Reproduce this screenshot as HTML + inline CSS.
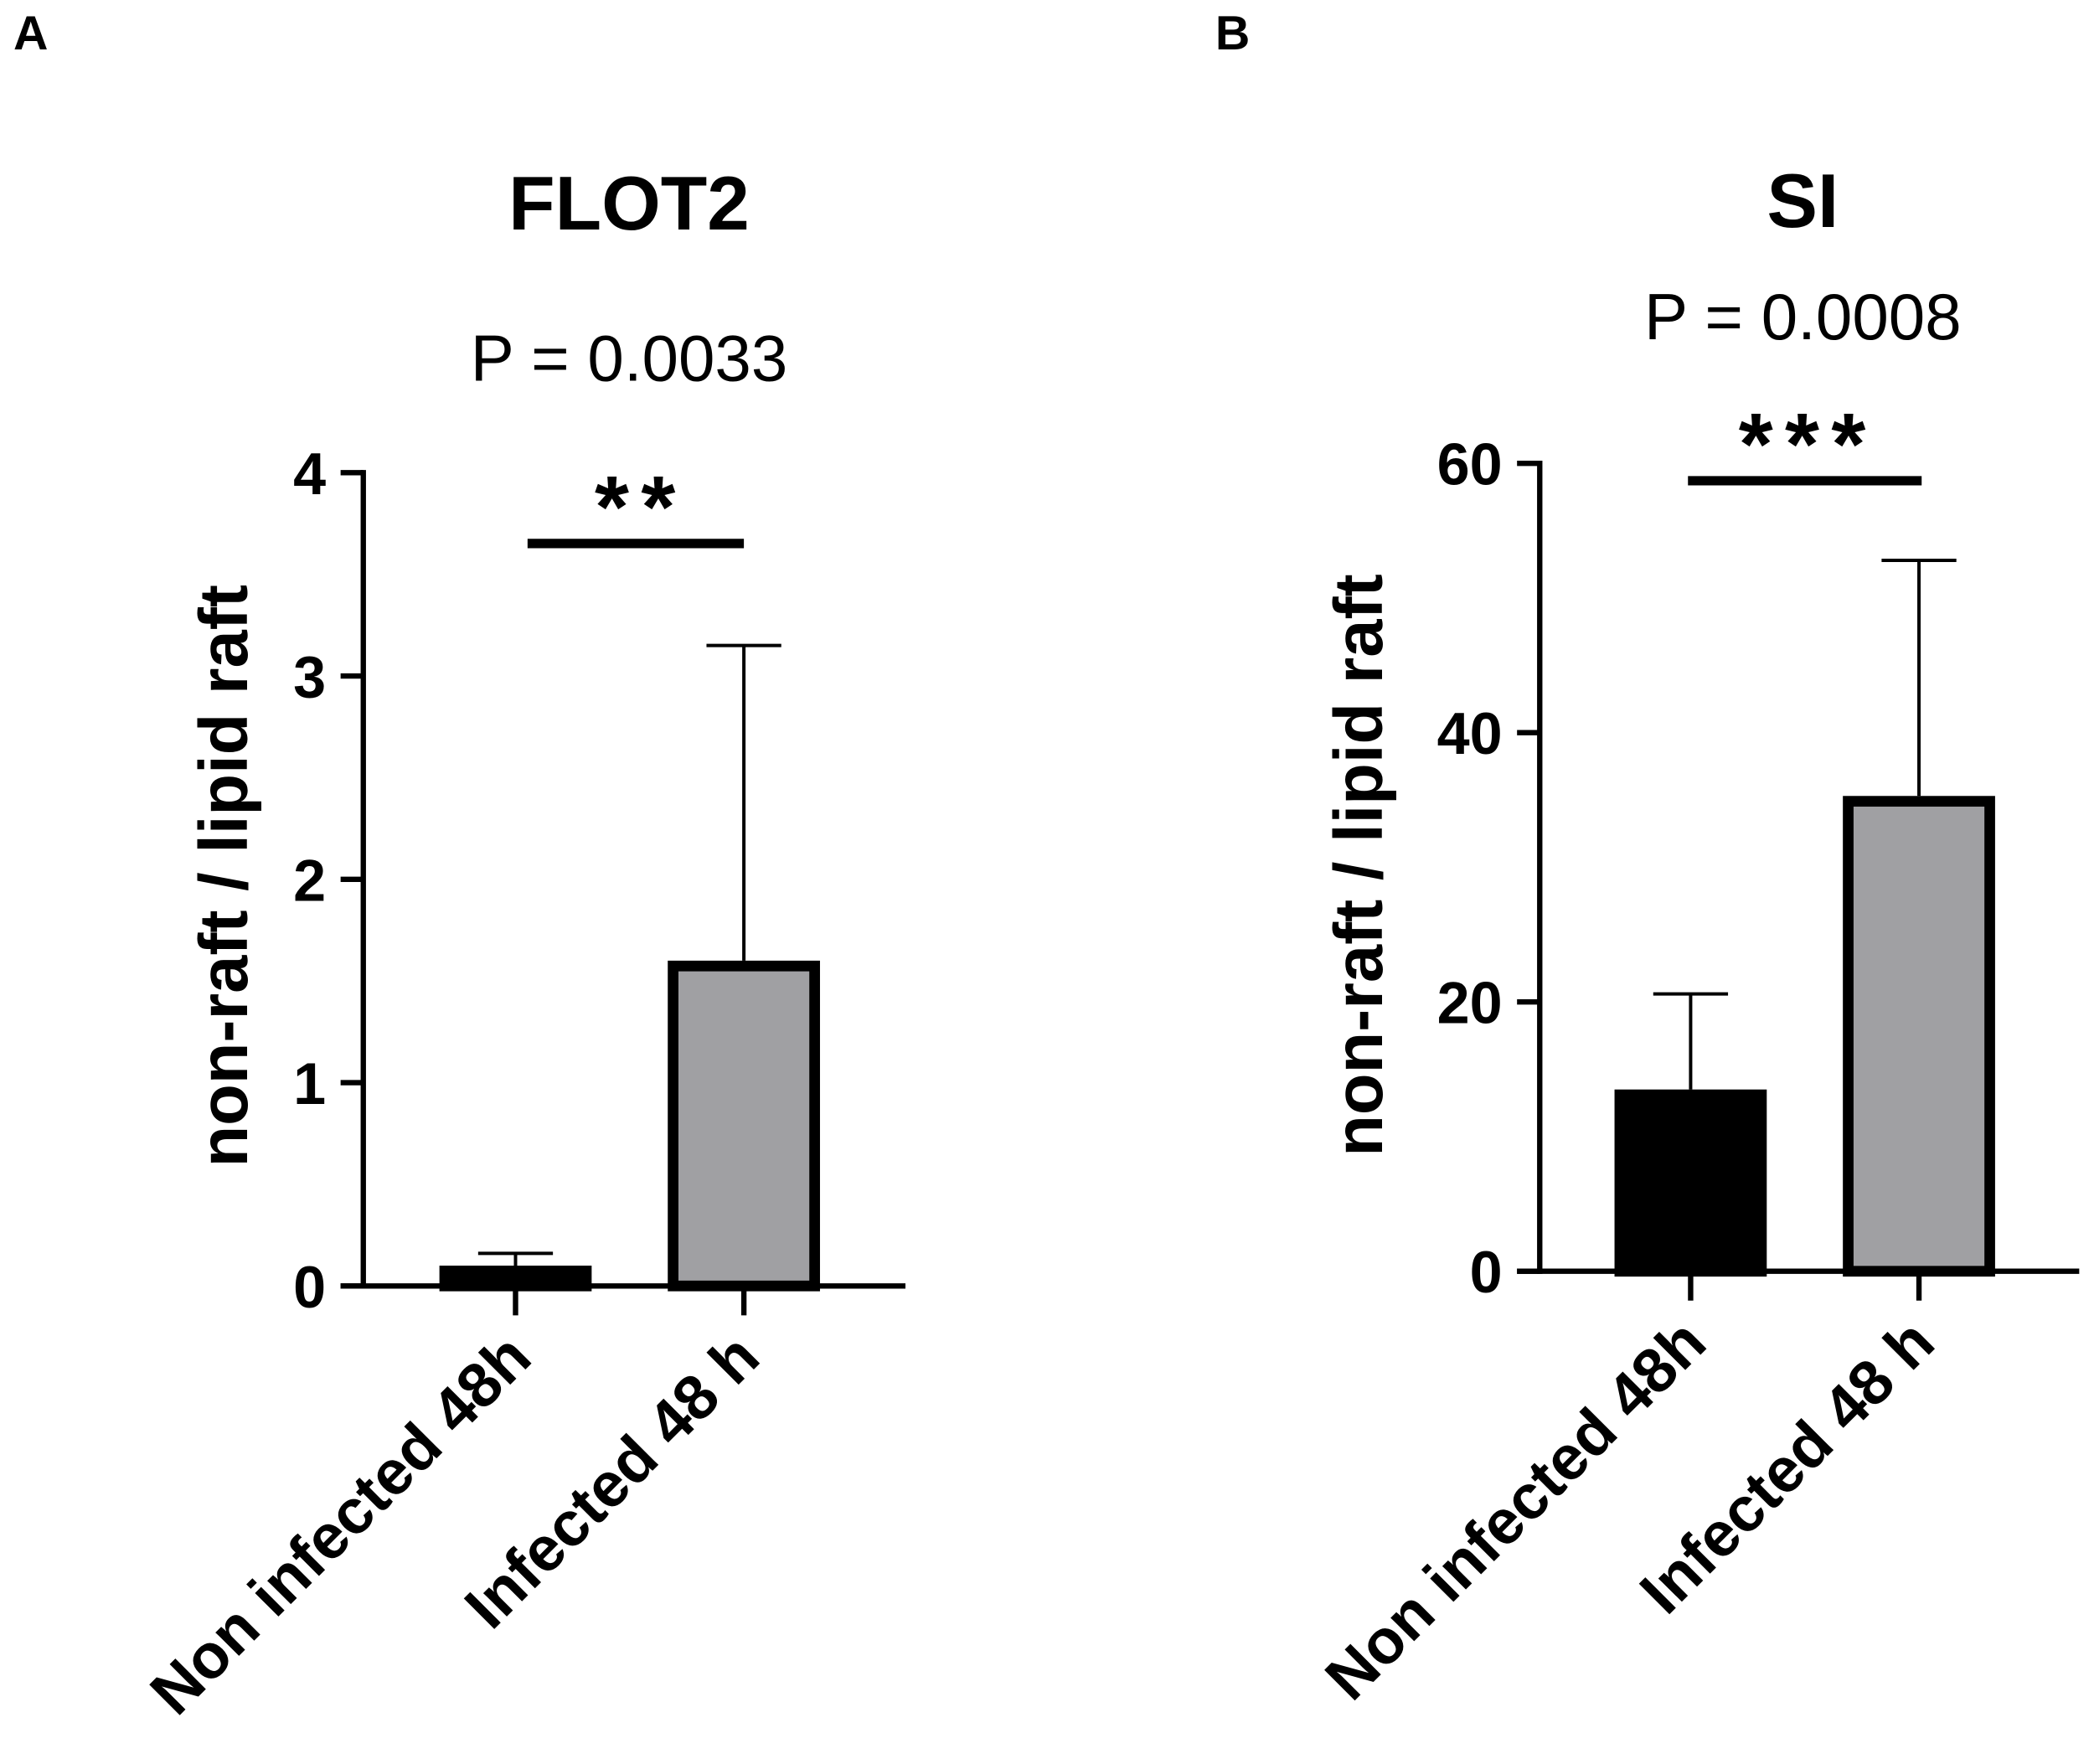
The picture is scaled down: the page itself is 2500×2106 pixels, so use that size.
<!DOCTYPE html>
<html><head><meta charset="utf-8"><style>
html,body{margin:0;padding:0;background:#fff}
svg{display:block}
text{font-family:"Liberation Sans",Arial,sans-serif;fill:#000}
</style></head><body>
<svg id="chart" width="2500" height="2106" viewBox="0 0 1568 1321" xmlns="http://www.w3.org/2000/svg">
<rect width="1568" height="1321" fill="#fff"/>
</svg>
<script>
const categories = ["Non infected 48h", "Infected 48 h"];
const flotMeans = [0.10, 1.60];
const flotErrors = [0.16, 3.15];
const flotTicks = [0, 1, 2, 3, 4];
const siMeans = [13.5, 35.3];
const siErrors = [20.6, 52.8];
const siTicks = [0, 20, 40, 60];
const fills = ["#000000", "#a0a0a3"];

const svg = document.getElementById('chart');
const NS = "http://www.w3.org/2000/svg";
function mk(tag, attrs, parent, txt){
  const e = document.createElementNS(NS, tag);
  for (const k in attrs) e.setAttribute(k, attrs[k]);
  if (txt !== undefined) e.textContent = txt;
  (parent || svg).appendChild(e);
  return e;
}

function panel(cfg){
  const g = mk('g', {});
  
  
  const y = v => cfg.y0 + (cfg.yTop - cfg.y0) * (v / cfg.max);
  const lt = mk('text', {x: cfg.letterX, y: 37, 'font-size': 36, 'font-weight': 'bold'}, g, cfg.letter);
  
  
  const tt = mk('text', {x: cfg.cx, y: cfg.titleY, 'font-size': 57, 'font-weight': 'bold', 'text-anchor': 'middle'}, g, cfg.title);
  
  
  const pt = mk('text', {x: cfg.cx, y: cfg.pY, 'font-size': 49, 'text-anchor': 'middle'}, g, cfg.pText);
  
  
  const yt = mk('text', {x: 0, y: 0, 'font-size': 51, 'font-weight': 'bold', 'text-anchor': 'middle', transform: `translate(${cfg.ytX},${cfg.ytY}) rotate(-90)`}, g, 'non-raft / lipid raft');
  
  
  const ya = mk('line', {x1: cfg.ax, x2: cfg.ax, y1: y(cfg.max) - 2, y2: cfg.y0 + 2, stroke: '#000', 'stroke-width': 4}, g);
  
  
  const xa = mk('line', {x1: cfg.ax - 17, x2: cfg.axEnd, y1: cfg.y0, y2: cfg.y0, stroke: '#000', 'stroke-width': 4}, g);
  
  
  cfg.ticks.forEach(t => {
    const tl = mk('line', {x1: cfg.ax - 17, x2: cfg.ax, y1: y(t), y2: y(t), stroke: '#000', 'stroke-width': 4}, g);
    
    
    const tx = mk('text', {x: cfg.ax - 28, y: y(t) + 16, 'font-size': 44, 'font-weight': 'bold', 'text-anchor': 'end'}, g, String(t));
    
    
  });
  categories.forEach((c, i) => {
    const cx = cfg.barCx[i];
    const bw = cfg.barW;
    const top = y(cfg.means[i]);
    const eb = mk('line', {x1: cx, x2: cx, y1: top, y2: y(cfg.errs[i]), stroke: '#000', 'stroke-width': 2.5}, g);
    
    
    const ec = mk('line', {x1: cx - 28, x2: cx + 28, y1: y(cfg.errs[i]), y2: y(cfg.errs[i]), stroke: '#000', 'stroke-width': 2.5}, g);
    
    
    const r = mk('rect', {x: cx - bw/2 + 4, y: top + 4, width: bw - 8, height: Math.max(0, cfg.y0 - top - 4), fill: fills[i], stroke: '#000', 'stroke-width': 8}, g);
    
    
    const xt = mk('line', {x1: cx, x2: cx, y1: cfg.y0, y2: cfg.y0 + 22, stroke: '#000', 'stroke-width': 4}, g);
    
    
    const xl = mk('text', {x: 0, y: 0, 'font-size': 47, 'font-weight': 'bold', 'text-anchor': 'end', transform: `translate(${cx + 14},${cfg.y0 + 56}) rotate(-45)`}, g, c);
    
    
  });
  const sl = mk('line', {x1: cfg.sig[0], x2: cfg.sig[1], y1: cfg.sigY, y2: cfg.sigY, stroke: '#000', 'stroke-width': 7}, g);
  
  
  const st = mk('text', {x: cfg.starX, y: cfg.sigY - 5, 'font-size': 66, 'font-weight': 'bold', 'text-anchor': 'middle', 'letter-spacing': 9}, g, cfg.stars);
  
  
}

panel({name: 'panel-a-flot2', letter: 'A', letterX: 10, title: 'FLOT2', cx: 471, titleY: 172, pText: 'P = 0.0033', pY: 285,
  ytX: 185, ytY: 656, ax: 272, axEnd: 678, y0: 963, yTop: 354, max: 4, ticks: flotTicks,
  means: flotMeans, errs: flotErrors, barCx: [386, 557], barW: 114, sig: [395, 557], sigY: 407, starX: 480, stars: '**'});
panel({name: 'panel-b-si', letter: 'B', letterX: 910, title: 'SI', cx: 1350, titleY: 170, pText: 'P = 0.0008', pY: 254,
  ytX: 1035, ytY: 648, ax: 1153, axEnd: 1557, y0: 952, yTop: 347, max: 60, ticks: siTicks,
  means: siMeans, errs: siErrors, barCx: [1266, 1437], barW: 114, sig: [1264, 1439], sigY: 360, starX: 1354, stars: '***'});
</script>
</body></html>
